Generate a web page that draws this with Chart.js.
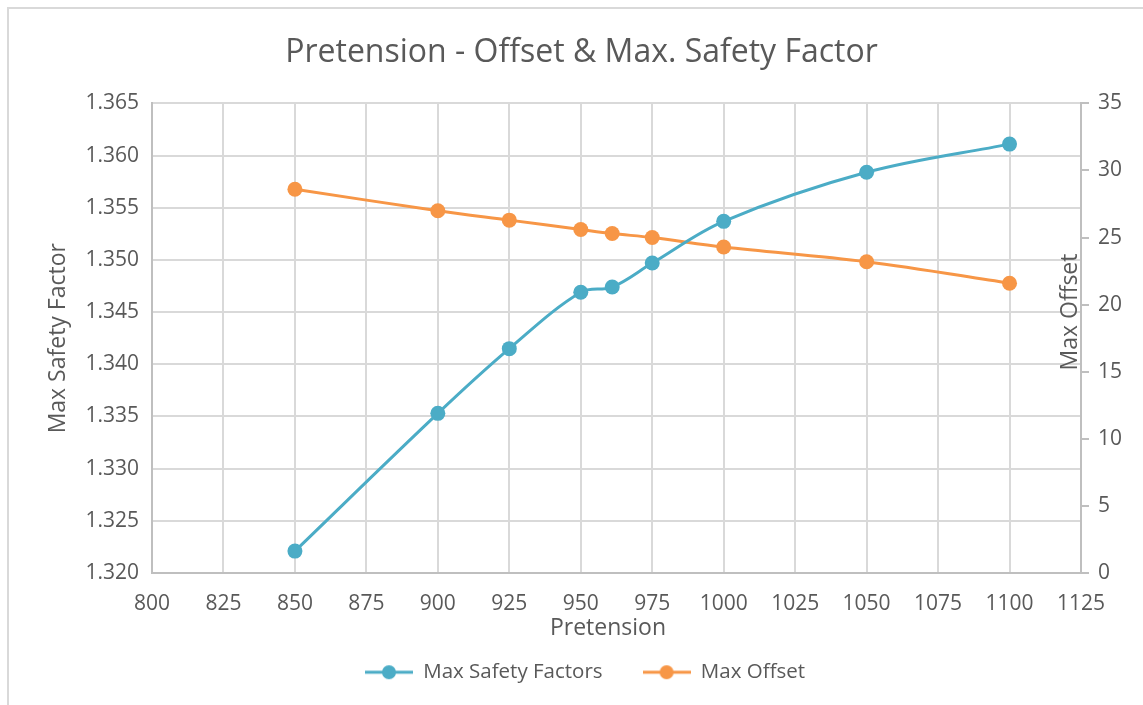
<!DOCTYPE html>
<html>
<head>
<meta charset="utf-8">
<script src="https://cdn.jsdelivr.net/npm/chart.js@4/dist/chart.umd.min.js"></script>
<style>
  html, body { margin: 0; padding: 0; background: #fff; overflow: hidden; }
  #frame { position: absolute; left: 7px; top: 7px; width: 1160px; height: 720px; border: 2px solid #d9d9d9; box-sizing: border-box; }
  #wrap { position: absolute; left: 0; top: 0; width: 1143px; height: 705px; }
</style>
</head>
<body>
<div id="frame"></div>
<div id="wrap"><canvas id="chart"></canvas></div>
<script>
// data
const pretension = [850, 900, 925, 950, 961, 975, 1000, 1050, 1100];
const safetyFactors = [1.3221, 1.3353, 1.3415, 1.3469, 1.3474, 1.3497, 1.3537, 1.3584, 1.3611];
const maxOffset = [28.6, 27.0, 26.3, 25.6, 25.3, 25.0, 24.3, 23.2, 21.6];

const BLUE = '#4bacc6';
const ORANGE = '#f79646';
const TEXT = '#595959';
const GRID = '#d9d9d9';
const AXIS = '#bfbfbf';
const FONT = "'Open Sans', sans-serif";

// legend symbol: line with a dot, like Excel
function legendSymbol(color) {
    const c = document.createElement('canvas');
    c.width = 48; c.height = 16;
    const g = c.getContext('2d');
    g.strokeStyle = color;
    g.lineWidth = 3;
    g.beginPath(); g.moveTo(0, 8); g.lineTo(48, 8); g.stroke();
    g.fillStyle = color;
    g.beginPath(); g.arc(24, 8, 7, 0, Math.PI * 2); g.fill();
    return c;
}

function rotatedText(ctx, text, x, y, size, angle) {
    ctx.save();
    ctx.translate(x, y);
    ctx.rotate(angle);
    ctx.font = size + "px " + FONT;
    ctx.fillStyle = TEXT;
    ctx.textAlign = 'center';
    ctx.textBaseline = 'middle';
    ctx.fillText(text, 0, 0);
    ctx.restore();
}

// Excel-ish placement of title, legend and axis titles
const excelLayout = {
    id: 'excelLayout',
    afterLayout(chart) {
        // legend padding also sets the item gap, so move the box instead
        chart.legend.top -= 12.5;
        chart.legend.bottom -= 12.5;
        chart.legend.left += 13.5;
        chart.legend.right += 13.5;
        chart.titleBlock.left += 10;
        chart.titleBlock.right += 10;
    },
    afterDraw(chart) {
        const ctx = chart.ctx;
        rotatedText(ctx, 'Pretension', 608, 628, 23, 0);
        rotatedText(ctx, 'Max Offset', 1070, 312, 23, -Math.PI / 2);
    }
};

const ds = (label, data, color, axis) => ({
    label,
    data: pretension.map((x, i) => ({x, y: data[i]})),
    borderColor: color,
    backgroundColor: color,
    borderWidth: 3,
    pointRadius: 7.5,
    pointHoverRadius: 7.5,
    pointBorderWidth: 0,
    pointStyle: 'circle',
    tension: 0.35,
    yAxisID: axis
});

new Chart(document.getElementById('chart'), {
    type: 'line',
    data: {
        datasets: [
            Object.assign(ds('Max Safety Factors', safetyFactors, BLUE, 'y'), {legendImg: legendSymbol(BLUE)}),
            Object.assign(ds('Max Offset', maxOffset, ORANGE, 'y2'), {legendImg: legendSymbol(ORANGE)})
        ]
    },
    options: {
        responsive: true,
        maintainAspectRatio: false,
        animation: false,
        layout: { padding: { left: 0, right: 0, top: 0, bottom: 0 } },
        plugins: {
            title: {
                display: true,
                text: 'Pretension - Offset & Max. Safety Factor',
                color: TEXT,
                font: { family: FONT, size: 32, weight: 'normal' },
                padding: { top: 34, bottom: 31 }
            },
            legend: {
                position: 'bottom',
                labels: {
                    color: TEXT,
                    font: { family: FONT, size: 20.5 },
                    usePointStyle: true,
                    pointStyleWidth: 48,
                    padding: 40,
                    generateLabels(chart) {
                        return chart.data.datasets.map((d, i) => ({
                            text: d.label,
                            pointStyle: d.legendImg,
                            fillStyle: d.borderColor,
                            strokeStyle: d.borderColor,
                            lineWidth: 0,
                            fontColor: TEXT,
                            datasetIndex: i,
                            hidden: false
                        }));
                    }
                }
            },
            tooltip: { enabled: false }
        },
        scales: {
            x: {
                type: 'linear',
                min: 800,
                max: 1125,
                ticks: { stepSize: 25, color: TEXT, font: { family: FONT, size: 21 }, padding: 18,
                         callback: v => String(v) },
                grid: { color: GRID, lineWidth: 2, drawTicks: false },
                border: { color: AXIS, width: 2 },
                afterFit(s) { s.height = 61.5; }
            },
            y: {
                position: 'left',
                min: 1.32,
                max: 1.365,
                ticks: { stepSize: 0.005, color: TEXT, font: { family: FONT, size: 21 }, padding: 13,
                         callback: v => v.toFixed(3) },
                grid: { color: GRID, lineWidth: 2, drawTicks: false },
                border: { color: AXIS, width: 2 },
                title: { display: true, text: 'Max Safety Factor', color: TEXT, font: { family: FONT, size: 23 }, padding: { top: 45, bottom: 4 } },
                afterFit(s) { s.width = 152; }
            },
            y2: {
                position: 'right',
                min: 0,
                max: 35,
                ticks: { stepSize: 5, color: TEXT, font: { family: FONT, size: 21 }, padding: 9 },
                grid: { drawOnChartArea: false, color: AXIS, lineWidth: 2, tickLength: 8 },
                border: { color: AXIS, width: 2 },
                afterFit(s) { s.width = 62; }
            }
        }
    },
    plugins: [excelLayout]
});
</script>
</body>
</html>
